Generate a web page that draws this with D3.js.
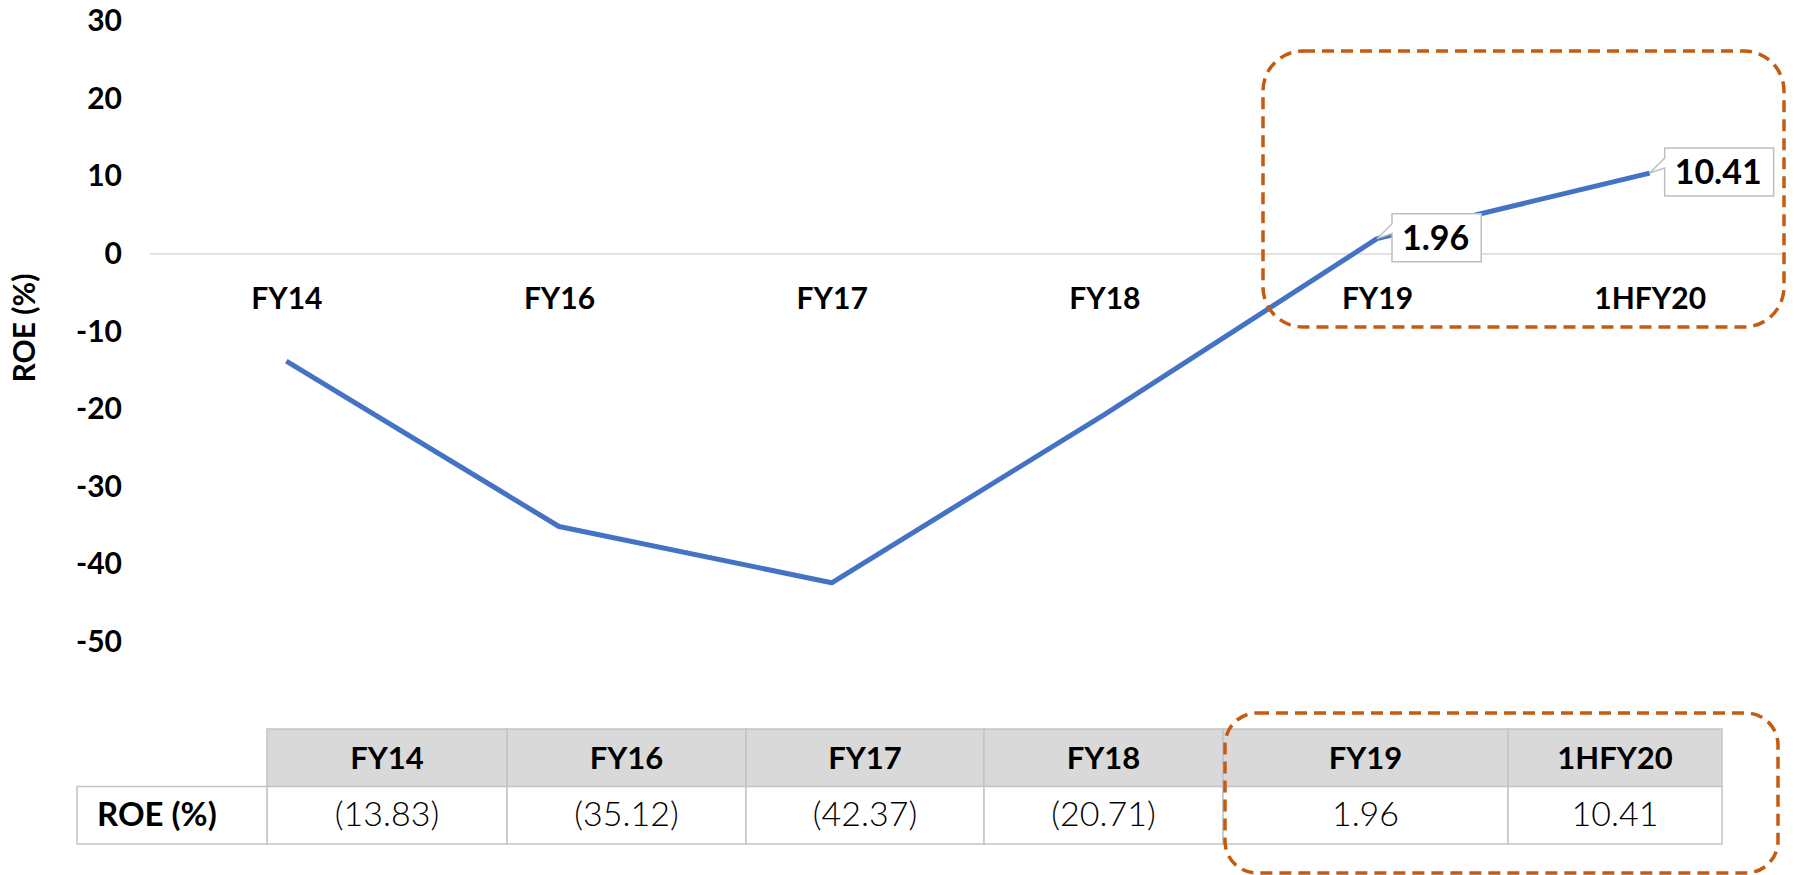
<!DOCTYPE html>
<html>
<head>
<meta charset="utf-8">
<script src="https://cdn.jsdelivr.net/npm/d3@7"></script>
<style>
  body { margin: 0; background: #fff; }
  svg { display: block; font-family: Lato, 'Noto Sans', sans-serif; }
</style>
</head>
<body>
<svg id="chart" width="1794" height="875"></svg>
<script>
// ROE line chart + summary table
const categories = ['FY14', 'FY16', 'FY17', 'FY18', 'FY19', '1HFY20'];
const roe = [-13.83, -35.12, -42.37, -20.71, 1.96, 10.41];
const yTicks = [-50, -40, -30, -20, -10, 0, 10, 20, 30];
const callouts = ['FY19', '1HFY20'];
const yTitle = 'ROE (%)';

const width = 1794;
const height = 875;
const margin = ({ top: 21, right: 8, bottom: 233, left: 150 });
const svg = d3.select('#chart');

const data = categories.map((c, i) => ({ name: c, value: roe[i] }));

const x = d3.scalePoint()
  .domain(categories)
  .range([margin.left, width - margin.right])
  .padding(0.5);

const y = d3.scaleLinear()
  .domain([-50, 30])
  .range([height - margin.bottom, margin.top]);

const fmt = v => (v < 0 ? `(${Math.abs(v).toFixed(2)})` : v.toFixed(2));

// zero line
svg.append('line')
  .attr('x1', margin.left)
  .attr('x2', width - margin.right)
  .attr('y1', y(0))
  .attr('y2', y(0))
  .attr('stroke', '#d9d9d9')
  .attr('stroke-width', 1.5);

// y axis labels
const yAxis = g => g
  .attr('transform', `translate(${margin.left},0)`)
  .call(d3.axisLeft(y).tickValues(yTicks).tickFormat(d => String(d)).tickSize(0).tickPadding(28))
  .call(g => g.select('.domain').remove())
  .call(g => g.selectAll('text')
    .attr('font-family', 'Lato, sans-serif')
    .attr('font-size', 30)
    .attr('font-weight', 'bold')
    .attr('fill', '#000'));

svg.append('g').call(yAxis);

// category labels sit just under the zero line
const xAxis = g => g
  .attr('transform', `translate(0,${y(0)})`)
  .call(d3.axisBottom(x).tickSize(0).tickPadding(34))
  .call(g => g.select('.domain').remove())
  .call(g => g.selectAll('text')
    .attr('font-family', 'Lato, sans-serif')
    .attr('font-size', 30)
    .attr('font-weight', 'bold')
    .attr('fill', '#000'));

svg.append('g').call(xAxis);

svg.append('text')
  .attr('transform', `translate(35,328) rotate(-90)`)
  .attr('text-anchor', 'middle')
  .attr('font-size', 30)
  .attr('font-weight', 'bold')
  .text(yTitle);

// the line
const line = d3.line()
  .x(d => x(d.name))
  .y(d => y(d.value));

svg.append('path')
  .datum(data)
  .attr('fill', 'none')
  .attr('stroke', '#4472c4')
  .attr('stroke-width', 5)
  .attr('stroke-linejoin', 'round')
  .attr('d', line);

// callout labels
const labels = svg.append('g')
  .selectAll('g')
  .data(data.filter(d => callouts.includes(d.name)))
  .join('g');

labels.each(function(d) {
  const g = d3.select(this);
  const px = x(d.name);
  const py = y(d.value);
  const bx = px + 15;
  const by = py - 25;
  const h = 48;
  const path = g.append('path');
  const t = g.append('text')
    .attr('x', bx + 10)
    .attr('y', by + 36)
    .attr('font-size', 34)
    .attr('font-weight', 'bold')
    .text(d.value.toFixed(2));
  const w = t.node().getComputedTextLength() + 22;
  path
    .attr('d', `M${bx},${by}H${bx + w}V${by + h}H${bx}V${by + 20}L${px},${py}L${bx},${by + 10}Z`)
    .attr('fill', '#fff')
    .attr('stroke', '#bfbfbf')
    .attr('stroke-width', 1.5);
});

// highlight box around the last two points
svg.append('rect')
  .attr('x', 1263)
  .attr('y', 51)
  .attr('width', 521)
  .attr('height', 276)
  .attr('rx', 40)
  .attr('fill', 'none')
  .attr('stroke', '#c55a11')
  .attr('stroke-width', 3.5)
  .attr('stroke-dasharray', '12,7');

// table
const colEdges = [267, 507, 746, 984, 1223, 1508, 1722];
const labelLeft = 77;
const rowTop = 729;
const rowH = 57.5;
const table = svg.append('g');

const cells = table.selectAll('g.col')
  .data(data)
  .join('g')
  .attr('class', 'col');

cells.append('rect')
  .attr('x', (d, i) => colEdges[i])
  .attr('y', rowTop)
  .attr('width', (d, i) => colEdges[i + 1] - colEdges[i])
  .attr('height', rowH)
  .attr('fill', '#d9d9d9')
  .attr('stroke', '#c4c4c4')
  .attr('stroke-width', 1.5);

cells.append('rect')
  .attr('x', (d, i) => colEdges[i])
  .attr('y', rowTop + rowH)
  .attr('width', (d, i) => colEdges[i + 1] - colEdges[i])
  .attr('height', rowH)
  .attr('fill', '#fff')
  .attr('stroke', '#c4c4c4')
  .attr('stroke-width', 1.5);

cells.append('text')
  .attr('x', (d, i) => (colEdges[i] + colEdges[i + 1]) / 2)
  .attr('y', rowTop + rowH / 2 + 11)
  .attr('text-anchor', 'middle')
  .attr('font-size', 31)
  .attr('font-weight', 'bold')
  .text(d => d.name);

cells.append('text')
  .attr('x', (d, i) => (colEdges[i] + colEdges[i + 1]) / 2)
  .attr('y', rowTop + rowH * 1.5 + 11)
  .attr('text-anchor', 'middle')
  .attr('font-size', 34)
  .attr('font-weight', 300)
  .text(d => fmt(d.value));

table.append('rect')
  .attr('x', labelLeft)
  .attr('y', rowTop + rowH)
  .attr('width', colEdges[0] - labelLeft)
  .attr('height', rowH)
  .attr('fill', '#fff')
  .attr('stroke', '#c4c4c4')
  .attr('stroke-width', 1.5);

table.append('text')
  .attr('x', 97)
  .attr('y', rowTop + rowH * 1.5 + 11)
  .attr('font-size', 33)
  .attr('font-weight', 'bold')
  .text(yTitle);

svg.append('rect')
  .attr('x', 1225)
  .attr('y', 713)
  .attr('width', 553)
  .attr('height', 160)
  .attr('rx', 32)
  .attr('fill', 'none')
  .attr('stroke', '#c55a11')
  .attr('stroke-width', 3.5)
  .attr('stroke-dasharray', '12,7');
</script>
</body>
</html>
